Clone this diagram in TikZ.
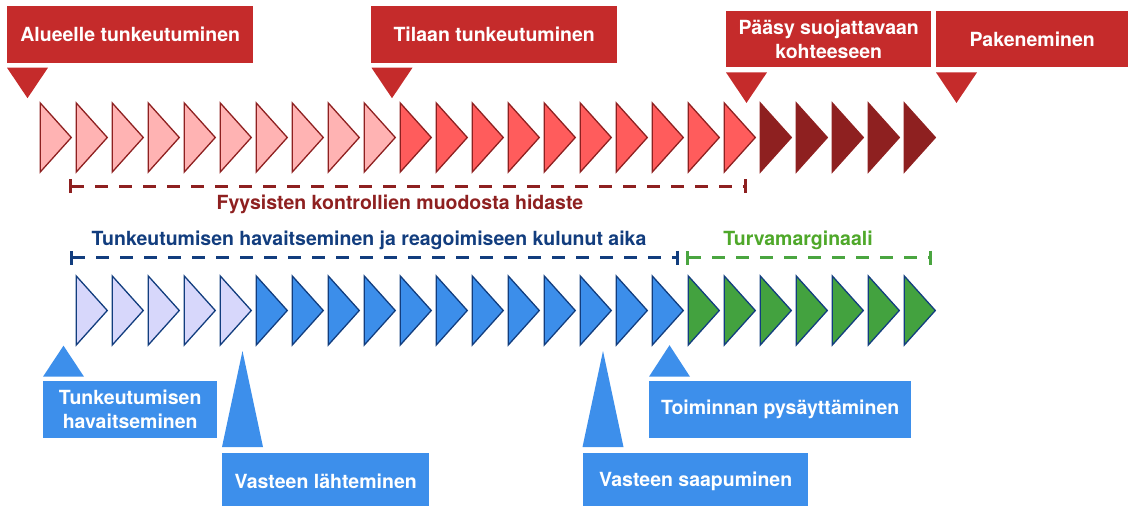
\documentclass[tikz,border=0pt]{standalone}
\usepackage{fontspec}
\setmainfont{TeX Gyre Heros}
\usepackage{tikz}
\usetikzlibrary{positioning}
\usetikzlibrary{shapes.geometric}
\usetikzlibrary{arrows.meta}

\definecolor{boxred}{HTML}{C52B2B}
\definecolor{darkred}{HTML}{8E2020}
\definecolor{pinkfill}{HTML}{FFB3B3}
\definecolor{redfill}{HTML}{FF5C5C}
\definecolor{navy}{HTML}{123D7E}
\definecolor{lavender}{HTML}{D7D7FB}
\definecolor{bluefill}{HTML}{3C8EEA}
\definecolor{greenfill}{HTML}{43A23F}
\definecolor{greentext}{HTML}{4FA82A}
\definecolor{greenline}{HTML}{4AA540}
\definecolor{boxblue}{HTML}{3D8FEB}

\newcommand{\labfont}{\fontsize{19.5}{24}\selectfont\bfseries}

\tikzset{
  tri/.style={isosceles triangle, isosceles triangle stretches, minimum width=69pt, minimum height=31pt, inner sep=0pt, outer sep=0pt, line width=1.3pt},
  tpink/.style={tri, draw=darkred, fill=pinkfill},
  tred/.style={tri, draw=darkred, fill=redfill},
  tdark/.style={tri, draw=darkred, fill=darkred},
  tlav/.style={tri, draw=navy, fill=lavender},
  tblue/.style={tri, draw=navy, fill=bluefill},
  tgreen/.style={tri, draw=navy, fill=greenfill},
  redbox/.style={fill=boxred, text=white, font=\labfont, inner sep=0pt, align=center, anchor=north west},
  bluebox/.style={fill=boxblue, text=white, font=\labfont, inner sep=0pt, align=center, anchor=north west},
  pdown/.style={isosceles triangle, isosceles triangle stretches, shape border rotate=270, minimum width=41pt, minimum height=30.5pt, inner sep=0pt, outer sep=0pt, fill=boxred},
  pup/.style={isosceles triangle, isosceles triangle stretches, shape border rotate=90, minimum width=41pt, inner sep=0pt, outer sep=0pt, fill=boxblue},
  spanline/.style={line width=3pt, dash pattern=on 13pt off 11pt, {Bar[width=14pt]}-{Bar[width=14pt]}}
}

\begin{document}
\begin{tikzpicture}[x=1pt, y=-1pt]
\useasboundingbox (0,0) rectangle (1133,506);
%%%%%%%%%%%%%%%%%%%%%%%%%%%%%%%%%%%%%
\node[redbox, minimum width=246pt, minimum height=57pt] (al) at (7,6) {Alueelle tunkeutuminen};
\node[redbox, minimum width=246pt, minimum height=57pt] (ti) at (371,6) {Tilaan tunkeutuminen};
\node[redbox, minimum width=205pt, minimum height=56pt] (pa) at (726,11) {Pääsy suojattavaan\\kohteeseen};
\node[redbox, minimum width=192pt, minimum height=56pt] (pk) at (936,11) {Pakeneminen};
\node[pdown, below=4.3pt of al.south west, xshift=20.5pt] (alp) {};
\node[pdown, below=4.3pt of ti.south west, xshift=21pt] (tip) {};
\node[pdown, below=5pt of pa.south west, xshift=20.5pt] (pap) {};
\node[pdown, below=5pt of pk.south west, xshift=20.5pt] (pkp) {};
%%%%%%%%%%%%%%%%%%%%%%%%%%%%%%%%%%%%%
\node[tpink] (t1) at (53.5,137.5) {};
\node[tpink, right=5pt of t1] (t2) {};
\node[tpink, right=5pt of t2] (t3) {};
\node[tpink, right=5pt of t3] (t4) {};
\node[tpink, right=5pt of t4] (t5) {};
\node[tpink, right=5pt of t5] (t6) {};
\node[tpink, right=5pt of t6] (t7) {};
\node[tpink, right=5pt of t7] (t8) {};
\node[tpink, right=5pt of t8] (t9) {};
\node[tpink, right=5pt of t9] (t10) {};
\node[tred, right=5pt of t10] (t11) {};
\node[tred, right=5pt of t11] (t12) {};
\node[tred, right=5pt of t12] (t13) {};
\node[tred, right=5pt of t13] (t14) {};
\node[tred, right=5pt of t14] (t15) {};
\node[tred, right=5pt of t15] (t16) {};
\node[tred, right=5pt of t16] (t17) {};
\node[tred, right=5pt of t17] (t18) {};
\node[tred, right=5pt of t18] (t19) {};
\node[tred, right=5pt of t19] (t20) {};
\node[tdark, right=5pt of t20] (t21) {};
\node[tdark, right=5pt of t21] (t22) {};
\node[tdark, right=5pt of t22] (t23) {};
\node[tdark, right=5pt of t23] (t24) {};
\node[tdark, right=5pt of t24] (t25) {};
%%%%%%%%%%%%%%%%%%%%%%%%%%%%%%%%%%%%%
\coordinate (fs) at (69,186);
\coordinate (fe) at (747,186);
\coordinate (hs) at (70,257.5);
\coordinate (he) at (679,257.5);
\coordinate (ms) at (686,257.5);
\coordinate (me) at (932,257.5);
\node[font=\labfont, text=darkred, anchor=base] (fl) at (400,209) {Fyysisten kontrollien muodosta hidaste};
\node[font=\labfont, text=navy, anchor=base] (hl) at (369,245) {Tunkeutumisen havaitseminen ja reagoimiseen kulunut aika};
\node[font=\labfont, text=greentext, anchor=base] (ml) at (798,245) {Turvamarginaali};
%%%%%%%%%%%%%%%%%%%%%%%%%%%%%%%%%%%%%
\node[tlav] (b1) at (89.5,310.5) {};
\node[tlav, right=5pt of b1] (b2) {};
\node[tlav, right=5pt of b2] (b3) {};
\node[tlav, right=5pt of b3] (b4) {};
\node[tlav, right=5pt of b4] (b5) {};
\node[tblue, right=5pt of b5] (b6) {};
\node[tblue, right=5pt of b6] (b7) {};
\node[tblue, right=5pt of b7] (b8) {};
\node[tblue, right=5pt of b8] (b9) {};
\node[tblue, right=5pt of b9] (b10) {};
\node[tblue, right=5pt of b10] (b11) {};
\node[tblue, right=5pt of b11] (b12) {};
\node[tblue, right=5pt of b12] (b13) {};
\node[tblue, right=5pt of b13] (b14) {};
\node[tblue, right=5pt of b14] (b15) {};
\node[tblue, right=5pt of b15] (b16) {};
\node[tblue, right=5pt of b16] (b17) {};
\node[tgreen, right=5pt of b17] (b18) {};
\node[tgreen, right=5pt of b18] (b19) {};
\node[tgreen, right=5pt of b19] (b20) {};
\node[tgreen, right=5pt of b20] (b21) {};
\node[tgreen, right=5pt of b21] (b22) {};
\node[tgreen, right=5pt of b22] (b23) {};
\node[tgreen, right=5pt of b23] (b24) {};
%%%%%%%%%%%%%%%%%%%%%%%%%%%%%%%%%%%%%
\node[bluebox, minimum width=174pt, minimum height=57pt] (th) at (43,381) {Tunkeutumisen\\havaitseminen};
\node[bluebox, minimum width=207pt, minimum height=57pt] (vl) at (222,453) {Vasteen lähteminen};
\node[bluebox, minimum width=225pt, minimum height=57pt] (vs) at (583,453) {Vasteen saapuminen};
\node[bluebox, minimum width=262pt, minimum height=57pt] (tp) at (649,381) {Toiminnan pysäyttäminen};
\node[pup, minimum height=31pt, above=4.3pt of th.north west, xshift=20.5pt] (thp) {};
\node[pup, minimum height=96pt, above=6pt of vl.north west, xshift=20.5pt] (vlp) {};
\node[pup, minimum height=96pt, above=6pt of vs.north west, xshift=20pt] (vsp) {};
\node[pup, minimum height=31.5pt, above=4.3pt of tp.north west, xshift=20.5pt] (tpp) {};
%%%%%%%%%%%%%%%%%%%%%%%%%%%%%%%%%%%%%
\draw[spanline, darkred] (fs) -- (fe);
\draw[spanline, navy] (hs) -- (he);
\draw[spanline, greenline] (ms) -- (me);
\end{tikzpicture}
\end{document}
